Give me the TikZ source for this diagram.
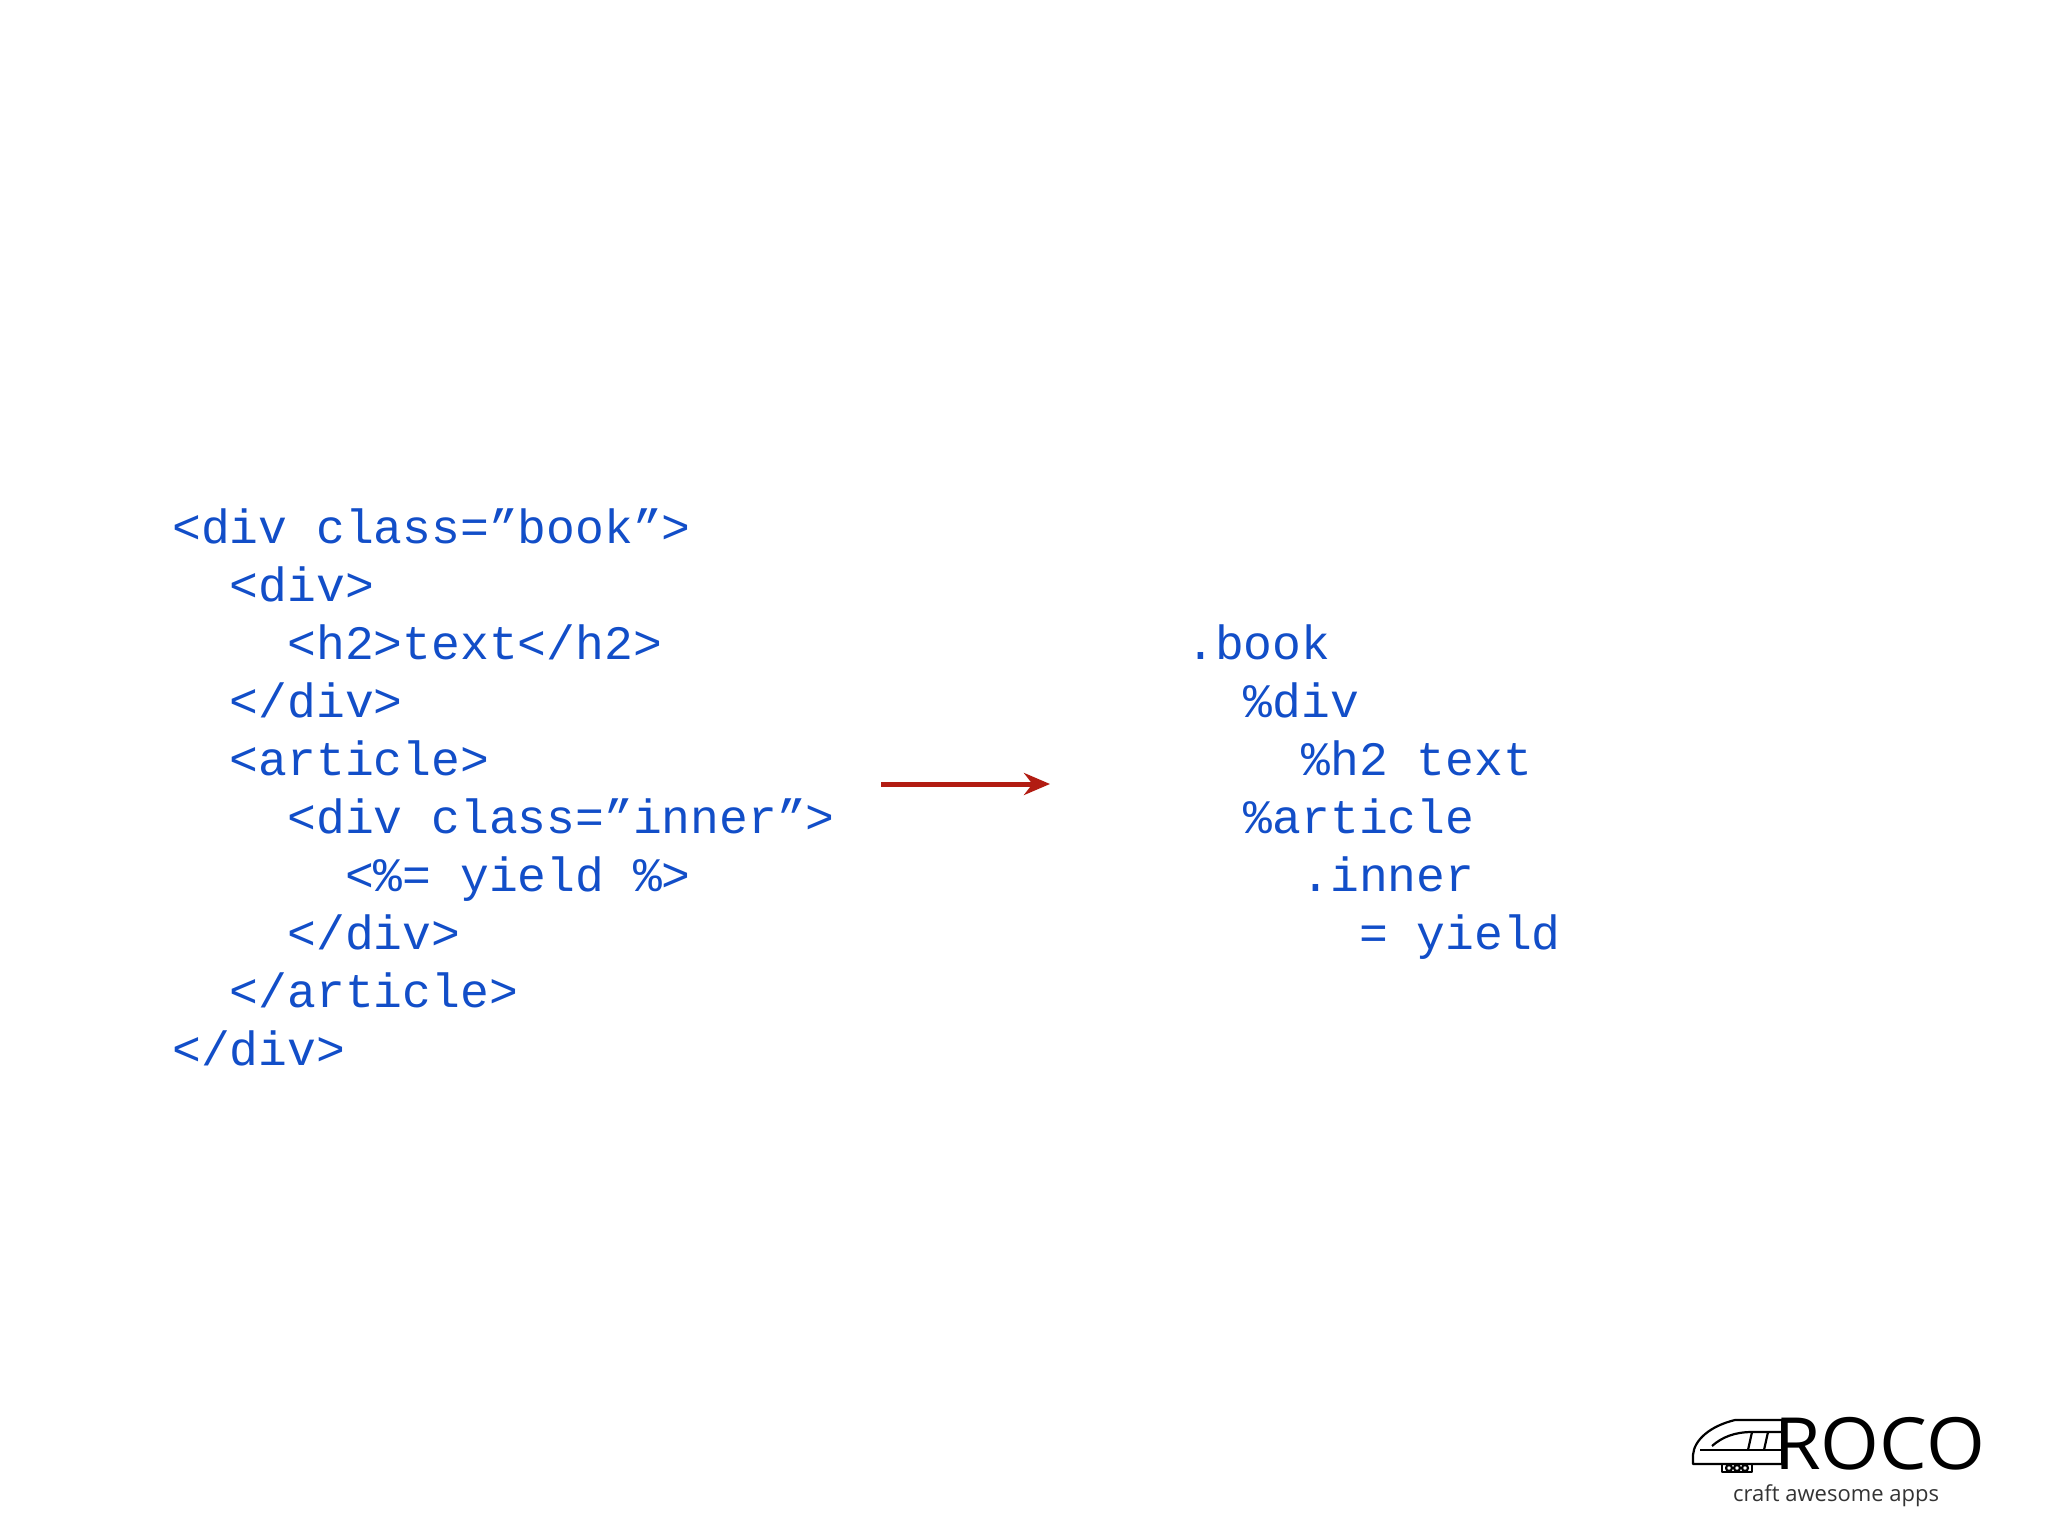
\documentclass[tikz,border=0pt]{standalone}
\usepackage{fontspec}
\setmonofont{Liberation Mono}
\newfontfamily\logofont{Open Sans}
\usetikzlibrary{arrows.meta}
\definecolor{codeblue}{RGB}{18,78,200}
\definecolor{arrred}{RGB}{178,28,18}
\tikzset{code/.style={anchor=base west,inner sep=0pt,text=codeblue,font=\fontsize{48}{48}\selectfont\ttfamily}}
\begin{document}
\begin{tikzpicture}[x=1pt,y=-1pt]
\useasboundingbox (0,0) rectangle (2048,1536);
\def\cw{28.8}
\foreach \t/\i/\n [count=\k from 0] in {{<div class=”book”>}/0/a1,{<div>}/2/a2,{<h2>text</h2>}/4/a3,{</div>}/2/a4,{<article>}/2/a5,{<div class=”inner”>}/4/a6,{<\%= yield \%>}/6/a7,{</div>}/4/a8,{</article>}/2/a9,{</div>}/0/a10}
  \node[code] (\n) at (172+\i*\cw, 543+\k*58) {\t};
\foreach \t/\i/\n [count=\k from 0] in {{.book}/0/b1,{\%div}/2/b2,{\%h2 text}/4/b3,{\%article}/2/b4,{.inner}/4/b5,{= yield}/6/b6}
  \node[code] (\n) at (1186+\i*\cw, 659+\k*58) {\t};
\coordinate (s) at (881,784);
\coordinate (e) at (1050,784);
\draw[arrred,line width=5,-{Stealth[length=26,width=22]}] (s) -- (e);
% logo
\node[anchor=base west,inner sep=0pt,font=\logofont\fontsize{72}{72}\selectfont,xscale=1.05] (roco) at (1774,1469) {ROCO};
\node[anchor=base west,inner sep=0pt,font=\logofont\fontsize{22}{22}\selectfont,text=black!80] (tag) at (1733,1501) {craft awesome apps};
\begin{scope}[line width=2.2,line join=round]
\draw (1782,1420) -- (1735,1420) .. controls (1710,1426) and (1694,1440) .. (1693,1455) -- (1693,1464) -- (1782,1464);
\draw (1700,1450) -- (1782,1450);
\draw (1712,1446) .. controls (1722,1437) and (1735,1432) .. (1752,1432) -- (1782,1432);
\draw (1752,1432) -- (1748,1450);
\draw (1768,1432) -- (1764,1450);
\draw (1782,1420) -- (1782,1464);
\draw (1722,1464) -- (1722,1472) -- (1752,1472) -- (1752,1464);
\draw (1729,1468) circle (3) (1737,1468) circle (3) (1745,1468) circle (3);
\end{scope}
\end{tikzpicture}
\end{document}
